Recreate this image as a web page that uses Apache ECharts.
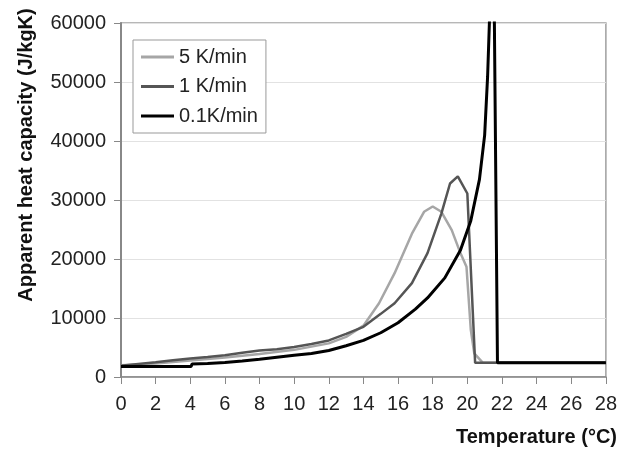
<!DOCTYPE html>
<html>
<head>
<meta charset="utf-8">
<script src="https://cdn.jsdelivr.net/npm/echarts@6/dist/echarts.min.js"></script>
<style>
html,body{margin:0;padding:0;background:#fff;}
#chart{width:620px;height:450px;}
</style>
</head>
<body>
<div id="chart"></div>
<script>
// Temperature ticks
var xTicks = [0,2,4,6,8,10,12,14,16,18,20,22,24,26,28];
var yTicks = [0,10000,20000,30000,40000,50000,60000];

var seriesNames = ['5 K/min', '1 K/min', '0.1K/min'];

// 5 K/min
var temp5 = [0, 2, 4, 6, 8, 10, 12, 13, 14, 14.9, 15.8, 16.8, 17.5, 18, 18.5, 19.1, 19.6, 19.95, 20.2, 20.4, 20.9, 28];
var cap5  = [2000, 2300, 2800, 3300, 3900, 4600, 5700, 6800, 8700, 12500, 17600, 24300, 28000, 28900, 28000, 24900, 21000, 18700, 8000, 4000, 2400, 2400];

// 1 K/min
var temp1 = [0, 1, 2, 3, 4, 5, 6, 7, 8, 9, 10, 11, 12, 13, 14, 14.5, 15, 15.8, 16.8, 17.7, 18.5, 19, 19.45, 20.0, 20.45, 22, 28];
var cap1  = [1900, 2200, 2500, 2850, 3150, 3400, 3700, 4100, 4500, 4700, 5100, 5600, 6200, 7300, 8500, 9600, 10700, 12500, 15900, 21000, 27700, 32800, 34000, 31100, 2400, 2400, 2400];

// 0.1 K/min
var temp01 = [0, 4.05, 4.1, 5, 6, 7, 8, 9, 10, 11, 12, 13, 14, 15, 16, 17, 17.7, 18.7, 19.6, 20.2, 20.7, 21.0, 21.17, 21.5, 21.74, 28];
var cap01  = [1800, 1800, 2200, 2300, 2450, 2700, 3000, 3350, 3700, 4000, 4500, 5300, 6200, 7500, 9200, 11500, 13400, 16800, 21500, 26500, 33500, 41000, 50900, 80000, 2400, 2400];

function pairs(xs, ys){ return xs.map(function(x,i){ return [x, ys[i]]; }); }

var colors = ['#a6a6a6', '#555555', '#000000'];
var widths = [2.5, 2.5, 3];
var datasets = [pairs(temp5, cap5), pairs(temp1, cap1), pairs(temp01, cap01)];

var FONT = '"Liberation Sans", Arial, sans-serif';

var chart = echarts.init(document.getElementById('chart'), null, {renderer:'canvas'});
chart.setOption({
  animation: false,
  backgroundColor: '#fff',
  textStyle: {fontFamily: FONT},
  grid: {left: 121, right: 11, top: 23, bottom: 73, show: true, borderColor: '#a0a0a0', borderWidth: 1.5, containLabel: false},
  legend: {
    orient: 'vertical', left: 133, top: 40,
    padding: [7, 8, 7, 8],
    itemGap: 9.5, itemWidth: 33, itemHeight: 3,
    icon: 'rect',
    backgroundColor: '#fff', borderColor: '#999', borderWidth: 1,
    textStyle: {fontSize: 20, color: '#222', fontFamily: FONT},
    data: seriesNames
  },
  xAxis: {
    type: 'value', min: xTicks[0], max: xTicks[xTicks.length-1], interval: 2,
    axisLine: {show: true, lineStyle: {color: '#888', width: 1.5}},
    axisTick: {show: true, inside: false, length: 7, lineStyle: {color: '#888', width: 1}},
    axisLabel: {fontSize: 20, color: '#222', margin: 17, fontFamily: FONT, formatter: function(v){ return String(v); }},
    splitLine: {show: false}
  },
  yAxis: {
    type: 'value', min: yTicks[0], max: yTicks[yTicks.length-1], interval: 10000,
    axisLine: {show: true, lineStyle: {color: '#888', width: 2}},
    axisTick: {show: true, inside: false, length: 7, lineStyle: {color: '#888', width: 1}},
    axisLabel: {fontSize: 20, color: '#222', margin: 15, fontFamily: FONT, formatter: function(v){ return String(v); }},
    splitLine: {show: true, lineStyle: {color: '#e2e2e2', width: 1}}
  },
  graphic: [
    {type: 'text', x: 26, y: 155, rotation: Math.PI/2,
     style: {text: 'Apparent heat capacity (J/kgK)', font: 'bold 20px ' + FONT, fill: '#111', align: 'center', verticalAlign: 'middle'}},
    {type: 'text', x: 617, y: 437,
     style: {text: 'Temperature (°C)', font: 'bold 20px ' + FONT, fill: '#111', align: 'right', verticalAlign: 'middle'}}
  ],
  series: seriesNames.map(function(name, i){
    return {
      name: name, type: 'line', data: datasets[i],
      symbol: 'none', showSymbol: false, clip: true,
      lineStyle: {color: colors[i], width: widths[i]},
      itemStyle: {color: colors[i]},
      z: 2 + i
    };
  })
});
</script>
</body>
</html>
